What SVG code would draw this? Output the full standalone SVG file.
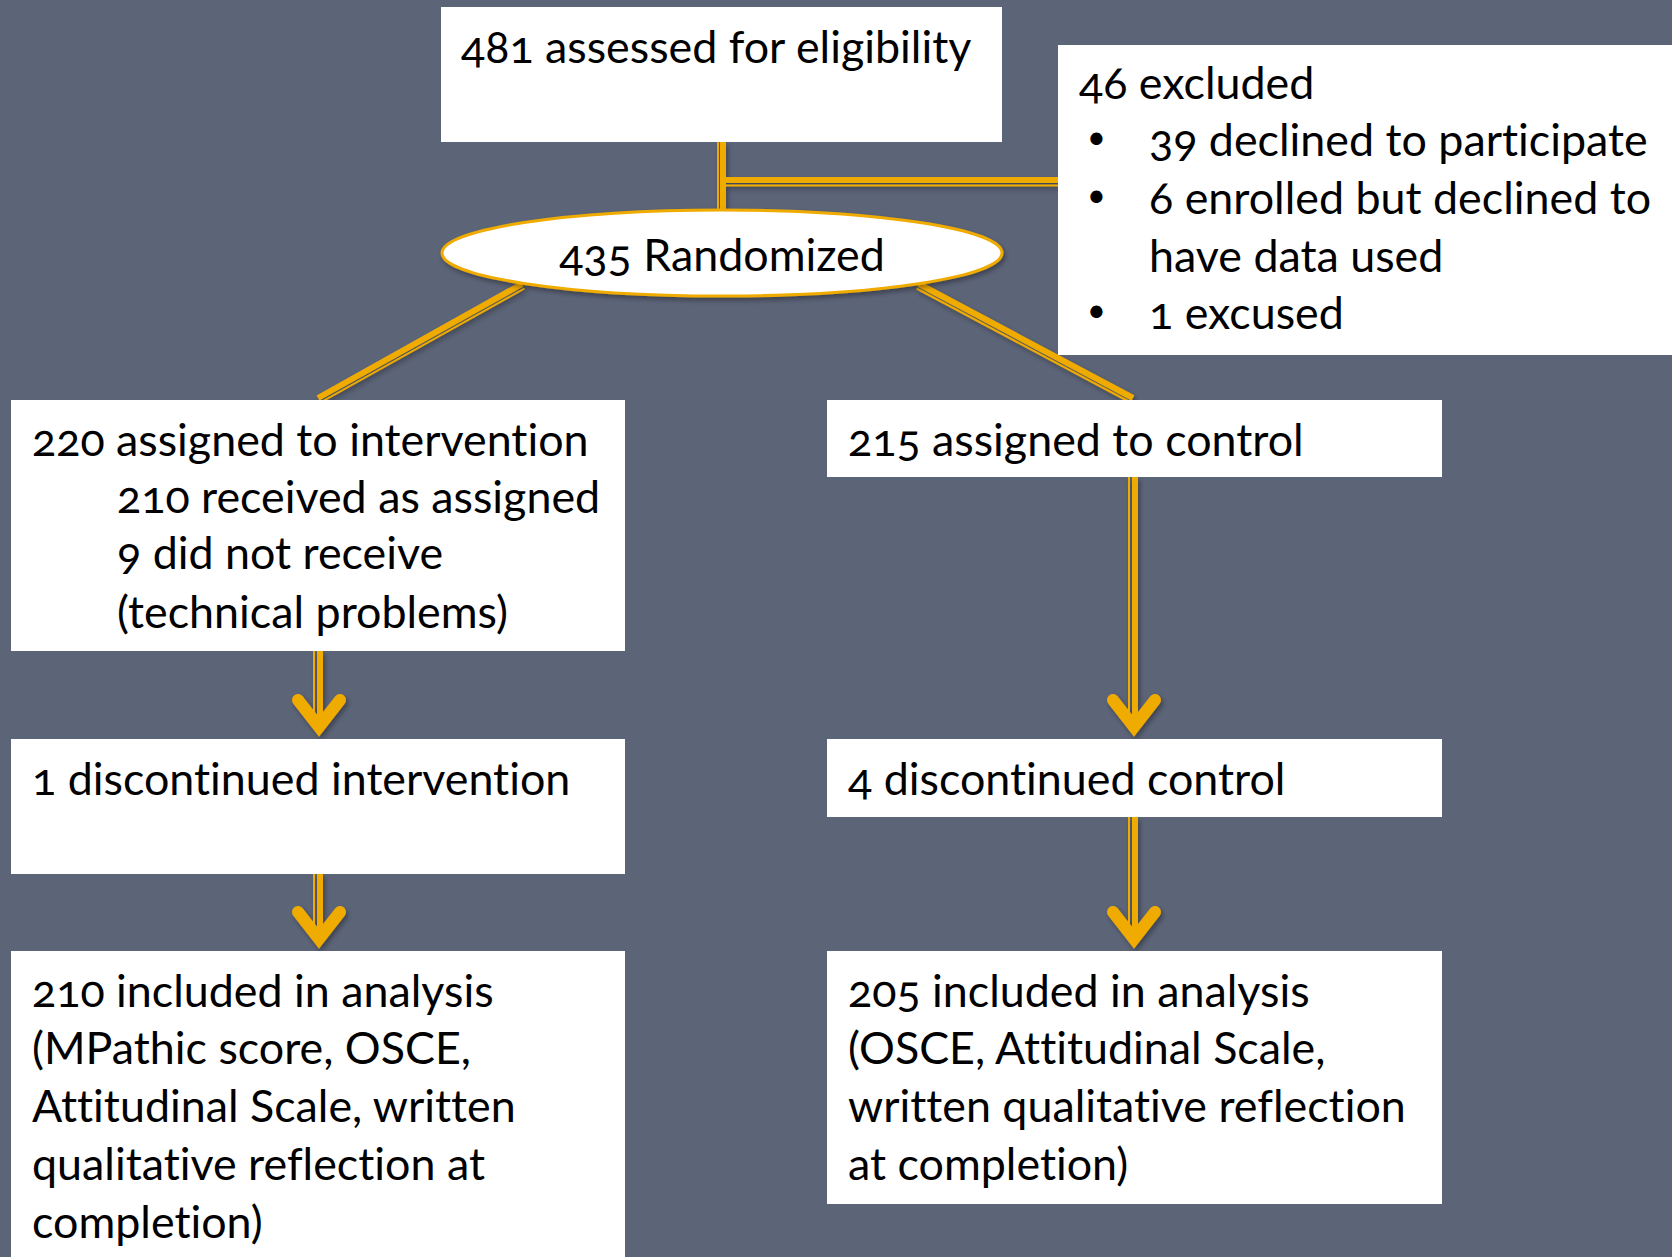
<svg xmlns="http://www.w3.org/2000/svg" width="1672" height="1257" viewBox="0 0 1672 1257">
<defs>
<style>
.box{fill:#ffffff}
.t{font-family:Lato,"Open Sans","Liberation Sans",sans-serif;font-size:44.8px;fill:#000;font-variant-numeric:oldstyle-nums;font-variant-ligatures:none;font-feature-settings:"onum" 1,"liga" 0}
.b{font-family:"DejaVu Sans","Liberation Sans",sans-serif;font-size:42px;fill:#000}
.thick{stroke:#F0AB00;stroke-width:6;fill:none}
.thin{stroke:#F0AB00;stroke-width:2;fill:none}
.head{stroke:#F0AB00;stroke-width:12;fill:none;stroke-linecap:round;stroke-linejoin:miter}
</style>
<filter id="sh" x="-20%" y="-20%" width="140%" height="140%">
<feDropShadow dx="2" dy="3" stdDeviation="2.5" flood-color="#000" flood-opacity="0.35"/>
</filter>
</defs>
<rect width="1672" height="1257" fill="#5C6478"/>
<g id="connectors" filter="url(#sh)">
<line class="thick" x1="723" y1="142" x2="723" y2="210"/>
<line class="thin" x1="718" y1="142" x2="718" y2="210"/>
<line class="thick" x1="723" y1="180" x2="1058" y2="180"/>
<line class="thin" x1="723" y1="185.5" x2="1058" y2="185.5"/>
<line class="thick" x1="522" y1="284" x2="318" y2="398"/>
<line class="thin" x1="524.5" y1="288.5" x2="320.5" y2="402.5"/>
<line class="thick" x1="919" y1="284" x2="1133" y2="398"/>
<line class="thin" x1="916.6" y1="288.5" x2="1130.6" y2="402.5"/>
<line class="thick" x1="320" y1="651" x2="320" y2="730"/>
<line class="thin" x1="314" y1="651" x2="314" y2="726"/>
<polyline class="head" points="298,700 319,727 340,700"/>
<line class="thick" x1="320" y1="874" x2="320" y2="942"/>
<line class="thin" x1="314" y1="874" x2="314" y2="938"/>
<polyline class="head" points="298,912 319,939 340,912"/>
<line class="thick" x1="1135" y1="477" x2="1135" y2="730"/>
<line class="thin" x1="1129" y1="477" x2="1129" y2="726"/>
<polyline class="head" points="1113,700 1134,727 1155,700"/>
<line class="thick" x1="1135" y1="817" x2="1135" y2="942"/>
<line class="thin" x1="1129" y1="817" x2="1129" y2="938"/>
<polyline class="head" points="1113,912 1134,939 1155,912"/>
</g>
<g id="n-assessed">
<rect class="box" x="441" y="7" width="561" height="135"/>
<text class="t" x="461" y="63">481 assessed for eligibility</text>
</g>
<g id="n-excluded">
<rect class="box" x="1058" y="45" width="614" height="310"/>
<text class="t" x="1079" y="99">46 excluded</text>
<text class="b" x="1084" y="155">•</text>
<text class="t" x="1149" y="156">39 declined to participate</text>
<text class="b" x="1084" y="213">•</text>
<text class="t" x="1149" y="214">6 enrolled but declined to</text>
<text class="t" x="1149" y="272">have data used</text>
<text class="b" x="1084" y="328">•</text>
<text class="t" x="1149" y="329">1 excused</text>
</g>
<g id="n-randomized">
<ellipse cx="722" cy="253" rx="280" ry="43" fill="#fff" stroke="#F0AB00" stroke-width="3" filter="url(#sh)"/>
<text class="t" x="722" y="271" text-anchor="middle">435 Randomized</text>
</g>
<g id="n-intervention">
<rect class="box" x="11" y="400" width="614" height="251"/>
<text class="t" x="32" y="456">220 assigned to intervention</text>
<text class="t" x="117" y="513">210 received as assigned</text>
<text class="t" x="117" y="569">9 did not receive</text>
<text class="t" x="117" y="628">(technical problems)</text>
</g>
<g id="n-control">
<rect class="box" x="827" y="400" width="615" height="77"/>
<text class="t" x="848" y="456">215 assigned to control</text>
</g>
<g id="n-disc-int">
<rect class="box" x="11" y="739" width="614" height="135"/>
<text class="t" x="32" y="795">1 discontinued intervention</text>
</g>
<g id="n-disc-ctl">
<rect class="box" x="827" y="739" width="615" height="78"/>
<text class="t" x="848" y="795">4 discontinued control</text>
</g>
<g id="n-incl-int">
<rect class="box" x="11" y="951" width="614" height="306"/>
<text class="t" x="32" y="1007">210 included in analysis</text>
<text class="t" x="32" y="1064">(MPathic score, OSCE,</text>
<text class="t" x="32" y="1122">Attitudinal Scale, written</text>
<text class="t" x="32" y="1180">qualitative reflection at</text>
<text class="t" x="32" y="1238">completion)</text>
</g>
<g id="n-incl-ctl">
<rect class="box" x="827" y="951" width="615" height="253"/>
<text class="t" x="848" y="1007">205 included in analysis</text>
<text class="t" x="848" y="1064">(OSCE, Attitudinal Scale,</text>
<text class="t" x="848" y="1122">written qualitative reflection</text>
<text class="t" x="848" y="1180">at completion)</text>
</g>
</svg>
